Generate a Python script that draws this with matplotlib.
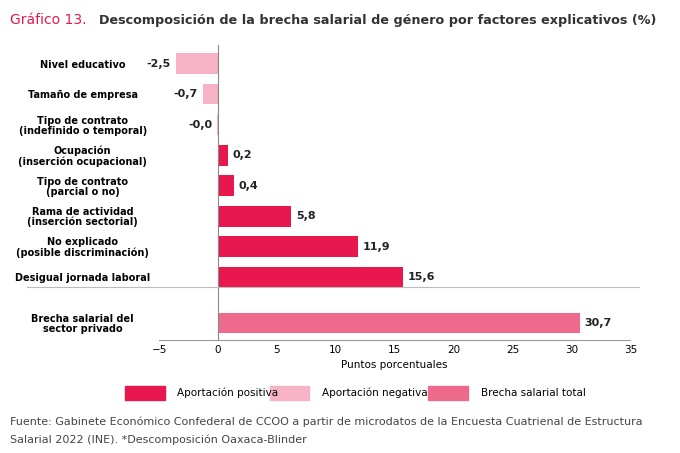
import matplotlib
matplotlib.use('Agg')
import matplotlib.pyplot as plt

categorias = ['Nivel educativo', 'Tamaño de empresa', 'Tipo de contrato\n(indefinido o temporal)',
              'Ocupación\n(inserción ocupacional)', 'Tipo de contrato\n(parcial o no)',
              'Rama de actividad\n(inserción sectorial)', 'No explicado\n(posible discriminación)',
              'Desigual jornada laboral', 'Brecha salarial del\nsector privado']
# longitud de barra tal como se dibuja y etiqueta publicada
longitudes = [-3.6, -1.3, -0.05, 0.85, 1.35, 6.2, 11.9, 15.7, 30.7]
etiquetas = ['-2,5', '-0,7', '-0,0', '0,2', '0,4', '5,8', '11,9', '15,6', '30,7']
tipos = ['neg', 'neg', 'neg', 'pos', 'pos', 'pos', 'pos', 'pos', 'tot']

COL = {'pos': '#e8174e', 'neg': '#f7b3c6', 'tot': '#ee6a8d'}

fig = plt.figure(figsize=(6.8, 4.53), dpi=100)
ax = fig.add_axes([0.234, 0.25, 0.693, 0.65])

y = [0, 1, 2, 3, 4, 5, 6, 7, 8.5]
for yi, v, e, t in zip(y, longitudes, etiquetas, tipos):
    ax.barh(yi, v, height=0.68, color=COL[t])
    xt = v - 0.4 if v < 0 else v + 0.4
    ax.text(xt, yi, e, ha='right' if v < 0 else 'left', va='center',
            fontsize=8, fontweight='bold', color='#222222')

ax.set_yticks(y)
ax.set_yticklabels(categorias, fontsize=7, fontweight='bold', linespacing=1.0)
for lbl in ax.get_yticklabels():
    lbl.set_horizontalalignment('center')
ax.tick_params(axis='y', length=0, pad=55)
ax.set_xlim(-5, 35)
ax.set_ylim(9.05, -0.6)
ax.set_xticks(range(-5, 36, 5))
ax.tick_params(axis='x', labelsize=7.5, length=0)
ax.axvline(0, color='#888888', lw=0.8)
for s in ax.spines.values():
    s.set_visible(False)
ax.spines['bottom'].set_visible(True)
ax.spines['bottom'].set_color('#999999')
ax.set_xlabel('Puntos porcentuales', fontsize=7.5, labelpad=4)

# línea separadora antes del total
fig.add_artist(plt.Line2D([0.04, 0.94], [0.366, 0.366], color='#bbbbbb', lw=0.8))

fig.text(0.015, 0.955, 'Gráfico 13.', color='#e8174e', fontsize=10, va='center')
fig.text(0.145, 0.955, 'Descomposición de la brecha salarial de género por factores explicativos (%)',
         color='#333333', fontsize=9.2, fontweight='bold', va='center')

# leyenda manual
for xl, t, txt in [(0.184, 'pos', 'Aportación positiva'), (0.397, 'neg', 'Aportación negativa'),
                   (0.63, 'tot', 'Brecha salarial total')]:
    fig.patches.append(plt.Rectangle((xl, 0.118), 0.058, 0.03, transform=fig.transFigure,
                                     color=COL[t]))
    fig.text(xl + 0.077, 0.133, txt, fontsize=7.5, va='center')

fig.text(0.015, 0.068, 'Fuente: Gabinete Económico Confederal de CCOO a partir de microdatos de la Encuesta Cuatrienal de Estructura',
         fontsize=8, color='#444444', va='center')
fig.text(0.015, 0.03, 'Salarial 2022 (INE). *Descomposición Oaxaca-Blinder', fontsize=8, color='#444444', va='center')

fig.savefig('out.png', dpi=100)
